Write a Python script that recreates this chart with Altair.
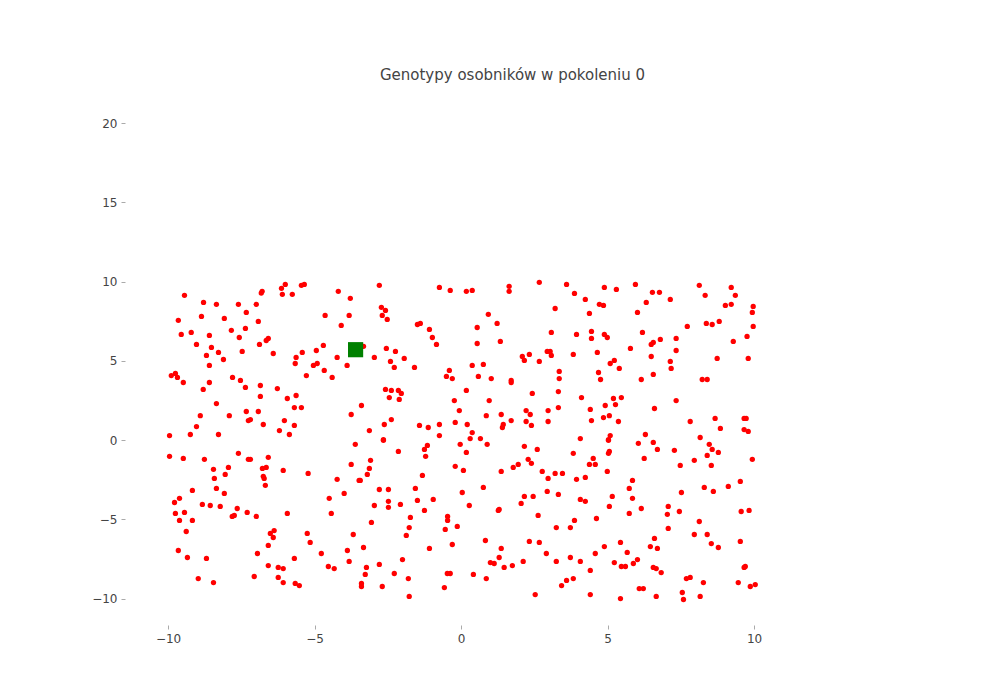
import pandas as pd
import altair as alt

# population genotypes (x, y)
upper_left = [
    (-9.44, 9.13), (-8.79, 8.68), (-8.35, 8.56), (-7.60, 8.56), (-6.99, 8.56), (-7.33, 8.05),
    (-6.82, 9.27), (-6.79, 9.38), (-6.13, 9.57), (-6.00, 9.82), (-6.10, 9.19), (-5.76, 9.19),
    (-5.45, 9.76), (-5.35, 9.82), (-4.19, 9.38), (-3.78, 8.94), (-4.64, 7.86), (-3.82, 7.86),
    (-4.09, 7.23), (-9.65, 7.55), (-8.86, 7.80), (-8.08, 7.67), (-6.92, 7.48), (-9.55, 6.66),
    (-9.21, 6.79), (-8.59, 6.60), (-7.84, 6.92), (-7.36, 7.04), (-7.57, 6.47), (-9.03, 6.03),
    (-8.52, 5.84), (-8.69, 5.34), (-8.28, 5.53), (-8.11, 5.08), (-8.59, 4.71), (-7.47, 5.59),
    (-6.88, 6.03), (-6.65, 6.28), (-6.58, 6.41), (-6.41, 5.46), (-5.63, 5.21), (-5.42, 5.53),
    (-5.66, 4.83), (-4.94, 5.65), (-4.70, 5.97), (-5.04, 4.71), (-4.91, 4.83), (-4.23, 5.21),
    (-3.89, 4.71), (-4.67, 4.39), (-4.40, 3.95), (-5.28, 4.07), (-9.89, 4.07), (-9.75, 4.20),
    (-9.68, 3.95), (-9.48, 3.63), (-8.59, 3.63), (-8.80, 3.19), (-7.80, 3.95), (-7.53, 3.76),
    (-7.36, 3.32), (-6.85, 3.44), (-6.27, 3.25), (-6.85, 2.75), (-5.93, 2.62), (-5.63, 2.81),
    (-5.69, 2.05), (-5.45, 2.05), (-8.35, 2.30), (-8.90, 1.54), (-7.91, 1.54), (-7.33, 1.80),
    (-6.92, 1.80), (-7.26, 1.23), (-7.19, 1.29), (-6.75, 0.98), (-6.03, 1.23), (-5.69, 0.92),
    (-6.20, 0.60), (-5.86, 0.35), (-3.75, 1.61), (-9.03, 0.85), (-9.95, 0.28), (-9.24, 0.35),
    (-8.28, 0.35),
]
upper_mid = [
    (-2.79, 9.76), (-0.74, 9.63), (-0.37, 9.44), (0.18, 9.38), (0.38, 9.44), (1.64, 9.70),
    (1.64, 9.38), (2.67, 9.95), (3.21, 8.30), (-2.72, 8.37), (-2.58, 8.18), (-2.69, 7.86),
    (-2.52, 7.61), (0.93, 7.93), (-1.49, 7.29), (-1.39, 7.36), (-1.08, 6.98), (0.55, 7.10),
    (1.23, 7.36), (3.08, 6.79), (-0.98, 6.47), (-0.84, 6.03), (0.55, 6.09), (1.34, 6.22),
    (-3.33, 5.91), (-2.55, 5.78), (-2.24, 5.59), (-2.96, 5.21), (-1.94, 5.15), (-2.41, 4.96),
    (-2.28, 4.58), (-1.59, 4.58), (2.09, 5.27), (2.16, 5.02), (2.33, 5.40), (2.67, 4.96),
    (2.94, 5.59), (3.04, 5.59), (3.08, 5.34), (-0.40, 4.39), (-0.50, 4.01), (-0.30, 3.88),
    (0.38, 4.71), (0.76, 4.77), (0.59, 4.01), (1.03, 3.88), (1.71, 3.76), (1.71, 3.63),
    (3.35, 4.33), (3.35, 3.88), (-2.58, 3.19), (-2.38, 3.13), (-2.14, 3.13), (-2.04, 2.94),
    (-2.45, 2.68), (-2.11, 2.56), (0.18, 3.13), (-0.23, 2.49), (0.96, 2.49), (2.43, 2.94),
    (3.32, 3.06), (-3.40, 2.18), (-0.06, 1.86), (0.86, 1.54), (1.37, 1.61), (2.22, 1.86),
    (2.36, 1.61), (2.97, 1.86), (3.32, 2.05), (-2.38, 1.29), (-2.62, 0.98), (-3.13, 0.60),
    (-1.42, 0.92), (-1.12, 0.79), (-0.74, 0.98), (-0.20, 1.11), (0.21, 0.98), (1.44, 0.98),
    (1.41, 0.79), (1.71, 1.23), (2.22, 1.17), (2.40, 0.92), (2.97, 1.17), (0.38, 0.47),
    (-0.74, 0.28), (0.31, 0.09), (0.66, 0.09), (-2.65, 0.03),
]
upper_right = [
    (3.60, 9.82), (3.87, 9.25), (4.24, 8.87), (4.89, 9.63), (5.30, 9.50), (5.95, 9.82),
    (6.53, 9.32), (6.77, 9.32), (6.32, 8.68), (7.14, 8.87), (8.13, 9.76), (8.33, 9.13),
    (9.22, 9.63), (9.36, 9.13), (9.02, 8.49), (9.22, 8.56), (9.97, 8.43), (9.94, 8.05),
    (9.97, 7.17), (4.72, 8.56), (4.86, 8.49), (4.38, 7.99), (6.02, 8.05), (7.72, 7.17),
    (8.37, 7.36), (8.57, 7.29), (8.81, 7.48), (3.94, 6.66), (4.45, 6.85), (4.45, 6.41),
    (4.89, 6.66), (4.99, 6.47), (6.19, 6.79), (6.49, 6.03), (6.56, 6.16), (6.80, 6.35),
    (7.34, 6.41), (7.34, 5.65), (5.78, 5.78), (9.76, 6.54), (9.29, 6.22), (3.83, 5.40),
    (4.65, 5.53), (5.23, 5.02), (5.09, 4.83), (5.40, 4.52), (6.49, 5.27), (7.14, 4.96),
    (7.17, 4.52), (8.74, 5.15), (9.80, 5.15), (4.69, 4.26), (4.76, 3.82), (6.15, 3.82),
    (6.56, 4.14), (8.23, 3.82), (8.40, 3.82), (4.11, 2.68), (4.41, 1.93), (4.92, 2.18),
    (5.20, 2.62), (5.47, 2.68), (5.27, 2.24), (4.45, 1.23), (4.86, 1.42), (5.06, 1.54),
    (5.37, 1.17), (6.60, 1.99), (7.34, 2.49), (7.82, 1.17), (8.67, 1.36), (9.66, 1.36),
    (9.73, 1.36), (8.85, 0.73), (9.66, 0.66), (9.80, 0.54), (5.09, 0.28), (5.03, 0.03),
    (4.07, 0.09), (6.29, 0.35), (8.16, 0.16),
]
lower_left = [
    (-9.95, -1.03), (-9.48, -1.16), (-8.76, -1.22), (-7.60, -0.84), (-7.26, -1.22), (-7.19, -1.22),
    (-6.58, -1.09), (-8.45, -1.85), (-7.94, -1.73), (-8.42, -2.42), (-8.05, -2.17), (-6.78, -1.79),
    (-6.65, -1.73), (-6.75, -2.29), (-6.72, -2.42), (-6.68, -2.86), (-6.07, -1.92), (-5.22, -2.11),
    (-3.61, -0.27), (-3.75, -1.54), (-4.23, -2.48), (-3.48, -2.55), (-9.17, -3.18), (-8.35, -3.05),
    (-8.08, -3.37), (-9.61, -3.68), (-9.78, -3.94), (-8.83, -4.06), (-8.56, -4.13), (-8.22, -4.19),
    (-7.64, -4.32), (-7.81, -4.82), (-7.74, -4.76), (-7.30, -4.57), (-6.99, -4.82), (-9.75, -4.63),
    (-9.44, -4.57), (-9.61, -5.07), (-9.17, -5.07), (-5.93, -4.63), (-4.50, -3.68), (-3.99, -3.37),
    (-4.43, -4.63), (-9.38, -5.77), (-6.51, -5.89), (-6.38, -5.71), (-6.41, -6.15), (-6.58, -6.65),
    (-5.25, -5.89), (-5.15, -6.46), (-3.68, -5.96), (-9.65, -6.97), (-9.34, -7.41), (-8.69, -7.47),
    (-6.95, -7.16), (-5.69, -7.47), (-4.77, -7.16), (-3.88, -6.97), (-3.82, -7.66), (-6.58, -7.92),
    (-6.24, -8.04), (-6.07, -8.11), (-4.53, -7.98), (-4.33, -8.11), (-8.97, -8.74), (-8.45, -8.99),
    (-7.06, -8.61), (-6.24, -8.67), (-6.07, -8.99), (-5.66, -9.05), (-5.52, -9.18),
]
lower_mid = [
    (-2.65, -0.02), (-2.14, -0.72), (-1.25, -0.59), (-1.15, -0.34), (-1.21, -1.03), (-0.03, -0.27),
    (0.18, -0.78), (0.89, -0.27), (2.16, -0.40), (2.60, -0.59), (-3.09, -1.28), (-3.13, -1.79),
    (-3.20, -2.17), (-3.44, -2.55), (-1.32, -2.23), (-0.20, -1.66), (0.08, -1.92), (1.37, -1.98),
    (1.78, -1.73), (1.95, -1.54), (2.29, -1.22), (2.40, -1.47), (2.77, -1.98), (3.21, -2.11),
    (2.97, -2.42), (-2.79, -3.12), (-2.48, -3.12), (-1.56, -3.05), (-2.48, -3.87), (-2.48, -4.25),
    (-2.96, -4.13), (-2.07, -4.06), (-1.49, -3.81), (-0.95, -3.75), (-1.25, -4.44), (0.04, -3.31),
    (0.76, -2.99), (0.28, -4.13), (1.27, -4.44), (1.30, -4.38), (2.05, -4.00), (2.16, -3.56),
    (2.46, -3.56), (2.94, -3.24), (3.32, -3.43), (2.63, -4.76), (-1.73, -4.88), (-1.77, -5.52),
    (-1.87, -6.02), (-3.06, -5.20), (-0.46, -4.82), (-0.46, -5.07), (-0.54, -5.64), (-0.13, -5.45),
    (3.25, -5.52), (0.83, -6.34), (-0.30, -6.59), (-1.08, -6.84), (-3.33, -6.78), (1.37, -6.84),
    (2.33, -6.40), (2.67, -6.46), (2.91, -7.16), (1.30, -7.41), (1.00, -7.73), (1.13, -7.79),
    (1.47, -8.04), (1.75, -7.92), (2.12, -7.66), (3.25, -7.66), (-2.00, -7.54), (-2.79, -7.85),
    (-3.23, -8.04), (-3.27, -8.48), (-2.28, -8.42), (-1.80, -8.74), (-0.47, -8.42), (-0.37, -8.42),
    (0.42, -8.48), (0.86, -8.74), (-3.40, -9.05), (-3.40, -9.24), (-2.69, -9.24), (-0.57, -9.31),
    (-1.77, -9.87), (2.53, -9.75),
]
lower_right = [
    (5.03, -0.02), (6.05, -0.21), (6.56, -0.15), (6.70, -0.59), (7.28, -0.65), (8.47, -0.27),
    (8.57, -0.59), (8.78, -0.78), (8.40, -0.97), (8.54, -1.60), (9.94, -1.22), (3.83, -0.84),
    (4.51, -1.16), (4.38, -1.54), (4.58, -1.54), (5.06, -0.72), (5.03, -0.84), (4.99, -1.98),
    (6.25, -1.16), (7.48, -1.60), (7.96, -1.28), (3.46, -2.11), (3.94, -2.48), (4.24, -2.36),
    (5.85, -2.55), (5.74, -3.05), (5.85, -3.68), (5.16, -3.56), (4.07, -3.75), (4.24, -3.87),
    (5.06, -4.19), (6.15, -4.32), (5.74, -4.63), (7.52, -3.31), (8.30, -2.99), (8.61, -3.24),
    (9.12, -2.93), (9.53, -2.61), (7.07, -4.19), (7.04, -4.69), (7.45, -4.51), (7.07, -5.58),
    (8.13, -5.14), (9.56, -4.51), (9.83, -4.44), (3.87, -5.07), (3.73, -5.52), (4.62, -4.95),
    (7.96, -5.96), (8.40, -5.96), (8.54, -6.53), (8.78, -6.78), (9.53, -6.40), (6.60, -6.21),
    (6.46, -6.72), (6.70, -6.84), (5.44, -6.46), (4.89, -6.72), (4.58, -7.16), (5.67, -7.09),
    (6.02, -7.54), (5.88, -7.79), (5.23, -7.73), (5.47, -7.98), (5.61, -7.98), (3.73, -7.41),
    (4.07, -7.66), (4.41, -8.23), (6.56, -8.04), (6.66, -8.11), (6.83, -8.36), (7.69, -8.74),
    (7.82, -8.67), (8.27, -8.99), (9.46, -8.99), (9.66, -8.04), (9.70, -7.98), (9.87, -9.24),
    (10.04, -9.12), (3.60, -8.86), (3.83, -8.74), (3.43, -9.18), (6.08, -9.37), (6.22, -9.37),
    (4.41, -9.75), (5.44, -10.0), (6.66, -9.87), (7.55, -9.62), (7.59, -10.06), (8.16, -9.87),
]
best_x = [-3.6]
best_y = [5.7]

x_ticks = [-10, -5, 0, 5, 10]
y_ticks = [-10, -5, 0, 5, 10, 15, 20]

pts = upper_left + upper_mid + upper_right + lower_left + lower_mid + lower_right
df = pd.DataFrame(pts, columns=["x", "y"])
best = pd.DataFrame({"x": best_x, "y": best_y})

xs = alt.Scale(domain=[-11.47, 14.98], nice=False, zero=False)
ys = alt.Scale(domain=[-11.67, 22.4], nice=False, zero=False)
ax = dict(grid=False, domain=False, tickColor="#aaaaaa", tickSize=4, labelColor="#444444",
          labelFontSize=12, labelFont="DejaVu Sans", title=None, labelPadding=4)

dots = alt.Chart(df).mark_circle(color="red", opacity=1, size=28).encode(
    x=alt.X("x:Q", scale=xs, axis=alt.Axis(values=x_ticks, **ax)),
    y=alt.Y("y:Q", scale=ys, axis=alt.Axis(values=y_ticks, **ax)),
)
square = alt.Chart(best).mark_square(color="green", opacity=1, size=230).encode(
    x=alt.X("x:Q", scale=xs), y=alt.Y("y:Q", scale=ys)
)

chart = (
    (dots + square)
    .properties(
        width=775,
        height=540,
        autosize="none",
        padding={"left": 117, "top": 77, "right": 92, "bottom": 67},
        title=alt.TitleParams("Genotypy osobników w pokoleniu 0", font="DejaVu Sans",
                              fontSize=15, fontWeight="normal", color="#444444", offset=2),
    )
    .configure_view(stroke=None)
)

chart.save("out.html", embed_options={"renderer": "svg", "actions": False})
